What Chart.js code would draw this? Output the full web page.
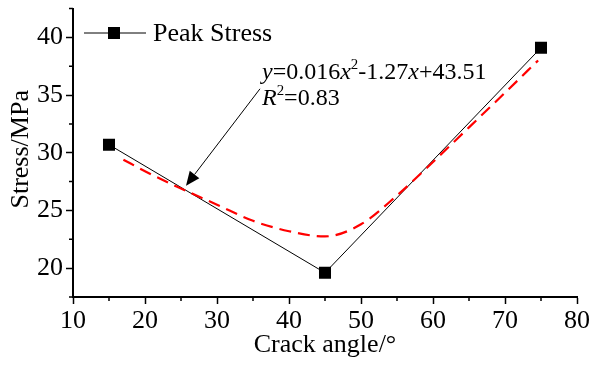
<!DOCTYPE html>
<html>
<head>
<meta charset="utf-8">
<script src="https://cdn.jsdelivr.net/npm/chart.js@4.4.1/dist/chart.umd.min.js"></script>
<style>
  html, body { margin: 0; padding: 0; background: #fff; }
  #wrap { width: 595px; height: 369px; }
</style>
</head>
<body>
<div id="wrap"><canvas id="stressChart" width="595" height="369"></canvas></div>
<script>
// measured peak stress per crack angle
const angles = [15, 45, 75];
const peakStress = [30.7, 19.6, 39.1];

// quadratic fit curve, sampled
const fitAngles = [17, 20, 25, 30, 35, 40, 45, 50, 55, 60, 65, 70, 74.6];
const fitStress = [29.4, 28.4, 26.9, 25.5, 24.1, 23.2, 22.75, 23.8, 26.3, 29.2, 32.2, 35.2, 38.0];

const xTicks = [10, 20, 30, 40, 50, 60, 70, 80];
const xMinor = [15, 25, 35, 45, 55, 65, 75];
const yTicks = [20, 25, 30, 35, 40];
const yMinor = [17.5, 22.5, 27.5, 32.5, 37.5, 42.5];

const SERIF = '"Liberation Serif", "Times New Roman", serif';

// equation label pieces: text, italic, superscript
const eqLine1 = [["y", 1, 0], ["=0.016", 0, 0], ["x", 1, 0], ["2", 0, 1], ["-1.27", 0, 0], ["x", 1, 0], ["+43.51", 0, 0]];
const eqLine2 = [["R", 1, 0], ["2", 0, 1], ["=0.83", 0, 0]];

function drawRuns(ctx, runs, x, y, size) {
  ctx.textBaseline = "alphabetic";
  ctx.textAlign = "left";
  runs.forEach(([t, it, sup]) => {
    const fs = sup ? size * 0.62 : size;
    ctx.font = `${it ? "italic " : ""}${fs}px ${SERIF}`;
    ctx.fillText(t, x, sup ? y - size * 0.4 : y);
    x += ctx.measureText(t).width;
  });
}

const extras = {
  id: "extras",
  afterDraw(chart) {
    const { ctx, scales: { x, y } } = chart;
    ctx.save();
    ctx.strokeStyle = "#000";
    ctx.fillStyle = "#000";

    // minor ticks
    ctx.lineWidth = 1.5;
    ctx.beginPath();
    xMinor.forEach((v) => {
      const px = x.getPixelForValue(v);
      ctx.moveTo(px, y.bottom);
      ctx.lineTo(px, y.bottom + 4);
    });
    yMinor.forEach((v) => {
      const py = y.getPixelForValue(v);
      ctx.moveTo(x.left, py);
      ctx.lineTo(x.left - 4, py);
    });
    ctx.stroke();

    // y axis title
    ctx.save();
    ctx.translate(21, y.getPixelForValue(30.3));
    ctx.rotate(-Math.PI / 2);
    ctx.font = `26px ${SERIF}`;
    ctx.textAlign = "center";
    ctx.textBaseline = "middle";
    ctx.fillText("Stress/MPa", 0, 0);
    ctx.restore();

    // legend: line - square - line, then label
    const ly = 33;
    ctx.lineWidth = 1;
    ctx.beginPath();
    ctx.moveTo(84, ly); ctx.lineTo(146, ly);
    ctx.stroke();
    ctx.fillRect(108, ly - 6, 12, 12);
    ctx.font = `26px ${SERIF}`;
    ctx.textBaseline = "middle";
    ctx.textAlign = "left";
    ctx.fillText("Peak Stress", 153, ly + 1);

    // fit equation
    const ex = x.getPixelForValue(36.25);
    drawRuns(ctx, eqLine1, ex, y.getPixelForValue(36.4), 24);
    drawRuns(ctx, eqLine2, ex, y.getPixelForValue(34.17), 24);

    // arrow pointing at the fit curve
    const ax0 = x.getPixelForValue(35.97), ay0 = y.getPixelForValue(35.54);
    const ax1 = x.getPixelForValue(25.7), ay1 = y.getPixelForValue(27.15);
    const ang = Math.atan2(ay1 - ay0, ax1 - ax0);
    const hl = 14, hw = 6;
    const bx = ax1 - hl * Math.cos(ang), by = ay1 - hl * Math.sin(ang);
    ctx.lineWidth = 1;
    ctx.beginPath();
    ctx.moveTo(ax0, ay0);
    ctx.lineTo(bx, by);
    ctx.stroke();
    ctx.beginPath();
    ctx.moveTo(ax1, ay1);
    ctx.lineTo(bx + hw * Math.sin(ang), by - hw * Math.cos(ang));
    ctx.lineTo(bx - hw * Math.sin(ang), by + hw * Math.cos(ang));
    ctx.closePath();
    ctx.fill();

    ctx.restore();
  }
};

new Chart(document.getElementById("stressChart"), {
  type: "line",
  data: {
    datasets: [
      {
        label: "Fit",
        data: fitAngles.map((a, i) => ({ x: a, y: fitStress[i] })),
        borderColor: "#ff0000",
        borderWidth: 2.2,
        borderDash: [12, 7],
        pointRadius: 0,
        cubicInterpolationMode: "monotone",
        fill: false
      },
      {
        label: "Peak Stress",
        data: angles.map((a, i) => ({ x: a, y: peakStress[i] })),
        borderColor: "#000",
        borderWidth: 1,
        pointStyle: "rect",
        pointRadius: 8.5,
        pointBackgroundColor: "#000",
        pointBorderWidth: 0,
        tension: 0,
        fill: false
      }
    ]
  },
  options: {
    responsive: false,
    animation: false,
    layout: { padding: { top: 4, right: 18, left: 0, bottom: 0 } },
    plugins: { legend: { display: false }, tooltip: { enabled: false } },
    scales: {
      x: {
        type: "linear",
        min: 10, max: 80,
        afterBuildTicks: (s) => { s.ticks = xTicks.map((v) => ({ value: v })); },
        afterFit: (s) => { s.height = 72; s.paddingLeft = 0; s.paddingRight = 0; },
        ticks: { color: "#000", font: { family: SERIF, size: 26 }, padding: 2, maxRotation: 0 },
        grid: { drawOnChartArea: false, color: "#000", tickLength: 7, tickWidth: 1.5 },
        border: { color: "#000", width: 2 },
        title: { display: true, text: "Crack angle/°", color: "#000", font: { family: SERIF, size: 26 }, padding: { top: 0, bottom: 8 } }
      },
      y: {
        min: 17.5, max: 42.5,
        afterBuildTicks: (s) => { s.ticks = yTicks.map((v) => ({ value: v })); },
        afterFit: (s) => { s.width = 73; s.paddingTop = 0; s.paddingBottom = 0; },
        ticks: { color: "#000", font: { family: SERIF, size: 26 }, padding: 3 },
        grid: { drawOnChartArea: false, color: "#000", tickLength: 7, tickWidth: 1.5 },
        border: { color: "#000", width: 2 }
      }
    }
  },
  plugins: [extras]
});
</script>
</body>
</html>
